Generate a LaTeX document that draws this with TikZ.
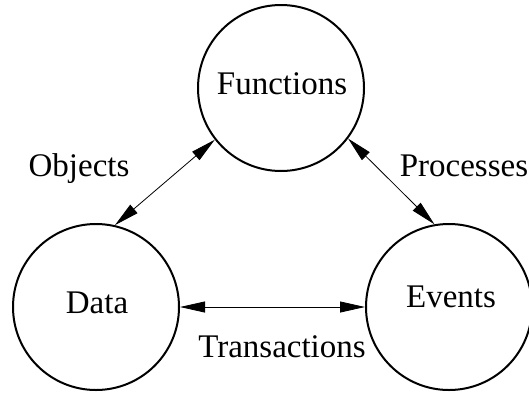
\documentclass[tikz,border=0pt]{standalone}
\usepackage{fontspec}
\setmainfont{Liberation Serif}
\usetikzlibrary{arrows.meta}

\begin{document}
\begin{tikzpicture}[x=1pt,y=-1pt,>={Triangle[length=25pt,width=11pt]},
	ent/.style={circle,draw,line width=2pt,minimum size=166pt,inner sep=0pt},
	lbl/.style={font=\fontsize{33}{40}\selectfont,inner sep=0pt,anchor=base},
	rel/.style={<->,line width=0.8pt}
	]

	\useasboundingbox (0,0) rectangle (529,394);

	\node[ent] (f) at (281,88) {};
	\node[ent] (d) at (96,307) {};
	\node[ent] (e) at (449,307) {};

	\node[lbl] (ft) at (282,94) {Functions};
	\node[lbl] (dt) at (97,313) {Data};
	\node[lbl] (et) at (451,307) {Events};

	\draw[rel] (d.77) -- (f.218);
	\draw[rel] (f.323) -- (e.100);
	\draw[rel] (d.0) -- (e.180);

	\node[lbl] (obj) at (79,176) {Objects};
	\node[lbl] (proc) at (464,176) {Processes};
	\node[lbl] (trans) at (282,357) {Transactions};

\end{tikzpicture}
\end{document}
